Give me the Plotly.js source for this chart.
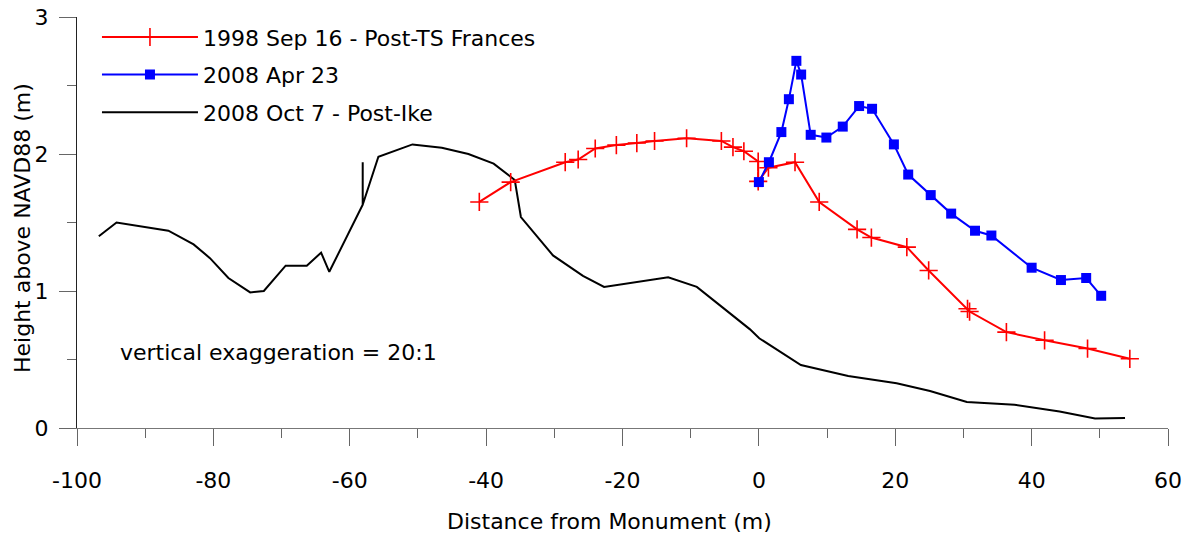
<!DOCTYPE html>
<html>
<head>
<meta charset="utf-8">
<script src="https://cdn.plot.ly/plotly-3.0.1.min.js"></script>
<style>html,body{margin:0;padding:0;background:#fff}#chart{width:1192px;height:540px}</style>
</head>
<body>
<div id="chart"></div>
<script>
// Tick values
const xTickVals = [-100, -80, -60, -40, -20, 0, 20, 40, 60];
const yTickVals = [0, 1, 2, 3];

// Series names
const seriesNames = ["1998 Sep 16 - Post-TS Frances", "2008 Apr 23", "2008 Oct 7 - Post-Ike"];

// 1998 Sep 16 - Post-TS Frances
const francesX = [-41.0, -36.4, -28.4, -26.5, -24.0, -20.9, -17.9, -15.3, -10.6, -5.5, -3.8, -2.2, -0.1, -0.1, 1.4, 5.3, 8.85, 14.4, 16.5, 21.7, 24.9, 30.6, 30.9, 36.3, 41.9, 48.2, 54.4];
const francesY = [1.65, 1.795, 1.94, 1.96, 2.04, 2.065, 2.08, 2.095, 2.115, 2.095, 2.05, 2.02, 1.945, 1.80, 1.90, 1.94, 1.65, 1.45, 1.39, 1.32, 1.15, 0.87, 0.85, 0.70, 0.64, 0.58, 0.505];

// 2008 Apr 23
const aprX = [0.0, 1.47, 3.3, 4.4, 5.5, 6.2, 7.6, 9.9, 12.3, 14.7, 16.6, 19.8, 21.9, 25.2, 28.2, 31.7, 34.1, 40.0, 44.3, 48.0, 50.2];
const aprY = [1.795, 1.94, 2.16, 2.40, 2.68, 2.58, 2.14, 2.12, 2.20, 2.35, 2.33, 2.07, 1.85, 1.70, 1.565, 1.44, 1.405, 1.17, 1.08, 1.095, 0.965];

// 2008 Oct 7 - Post-Ike
const ikeX = [-96.8, -94.2, -86.6, -82.9, -80.5, -77.8, -74.6, -72.6, -69.4, -66.3, -64.2, -63.0, -58.1, -58.1, -58.1, -55.8, -50.8, -46.5, -42.6, -38.9, -35.8, -34.9, -30.2, -25.8, -22.7, -13.3, -9.1, -5.2, -1.3, 0.05, 6.16, 13.1, 20.2, 25.1, 30.5, 37.5, 44.1, 49.3, 53.7];
const ikeY = [1.40, 1.50, 1.44, 1.34, 1.24, 1.095, 0.99, 1.00, 1.185, 1.185, 1.28, 1.14, 1.63, 1.94, 1.63, 1.98, 2.07, 2.045, 2.00, 1.93, 1.81, 1.54, 1.26, 1.11, 1.03, 1.10, 1.03, 0.875, 0.72, 0.655, 0.46, 0.38, 0.327, 0.27, 0.19, 0.17, 0.12, 0.07, 0.073];

const FONT = "'DejaVu Sans', 'Liberation Sans', Arial, sans-serif";
const FS = 22;

const traces = [
  {
    x: ikeX, y: ikeY, name: seriesNames[2], type: 'scatter', mode: 'lines',
    line: {color: '#000000', width: 2}, legendrank: 3, legendgroup: 'c'
  },
  {
    x: francesX, y: francesY, name: seriesNames[0], type: 'scatter', mode: 'lines+markers',
    line: {color: '#ff0000', width: 2},
    marker: {symbol: 'cross-thin', size: 13, color: '#ff0000', line: {color: '#ff0000', width: 1.6}},
    legendrank: 1, legendgroup: 'a'
  },
  {
    x: aprX, y: aprY, name: seriesNames[1], type: 'scatter', mode: 'lines+markers',
    line: {color: '#0000ff', width: 2},
    marker: {symbol: 'square', size: 10, color: '#0000ff', line: {width: 0}},
    legendrank: 2, legendgroup: 'b'
  }
];

const layout = {
  width: 1192, height: 540,
  margin: {l: 77, r: 24, t: 17, b: 112, pad: 0},
  paper_bgcolor: '#ffffff', plot_bgcolor: '#ffffff',
  font: {family: FONT, size: FS, color: '#000000'},
  showlegend: true,
  legend: {
    x: 0.0183, y: 1.002, xanchor: 'left', yanchor: 'top',
    bgcolor: 'rgba(0,0,0,0)', borderwidth: 0,
    font: {family: FONT, size: FS, color: '#000'},
    traceorder: 'grouped', tracegroupgap: 6, itemwidth: 96
  },
  xaxis: {
    range: [-100, 60], autorange: false,
    tickmode: 'array', tickvals: xTickVals, ticktext: xTickVals.map(String),
    showline: true, linecolor: '#777777', linewidth: 1,
    ticks: 'outside', ticklen: 17, tickwidth: 1, tickcolor: '#666666',
    minor: {dtick: 10, tick0: 0, ticks: 'outside', ticklen: 9, tickwidth: 1, tickcolor: '#666666'},
    showgrid: false, zeroline: false,
    tickfont: {family: FONT, size: FS, color: '#000'},
    ticklabelstandoff: 16
  },
  yaxis: {
    range: [0, 3], autorange: false,
    tickmode: 'array', tickvals: yTickVals, ticktext: yTickVals.map(String),
    showline: true, linecolor: '#222222', linewidth: 1,
    ticks: 'outside', ticklen: 17, tickwidth: 1, tickcolor: '#666666',
    minor: {dtick: 0.5, tick0: 0, ticks: 'outside', ticklen: 9, tickwidth: 1, tickcolor: '#666666'},
    showgrid: false, zeroline: false,
    tickfont: {family: FONT, size: FS, color: '#000'},
    ticklabelstandoff: 6
  },
  annotations: [
    {
      text: 'Distance from Monument (m)', xref: 'paper', yref: 'paper',
      x: 0.4885, y: -0.2287, xanchor: 'center', yanchor: 'middle', showarrow: false,
      font: {family: FONT, size: FS, color: '#000'}
    },
    {
      text: 'Height above NAVD88 (m)', xref: 'paper', yref: 'paper',
      x: -0.0504, y: 0.4866, xanchor: 'center', yanchor: 'middle', showarrow: false, textangle: -90,
      font: {family: FONT, size: FS, color: '#000'}
    },
    {
      text: 'vertical exaggeration = 20:1', xref: 'paper', yref: 'paper',
      x: 0.0376, y: 0.1849, xanchor: 'left', yanchor: 'middle', showarrow: false,
      font: {family: FONT, size: FS, color: '#000'}
    }
  ]
};

Plotly.newPlot('chart', traces, layout, {displayModeBar: false, staticPlot: true});
</script>
</body>
</html>
